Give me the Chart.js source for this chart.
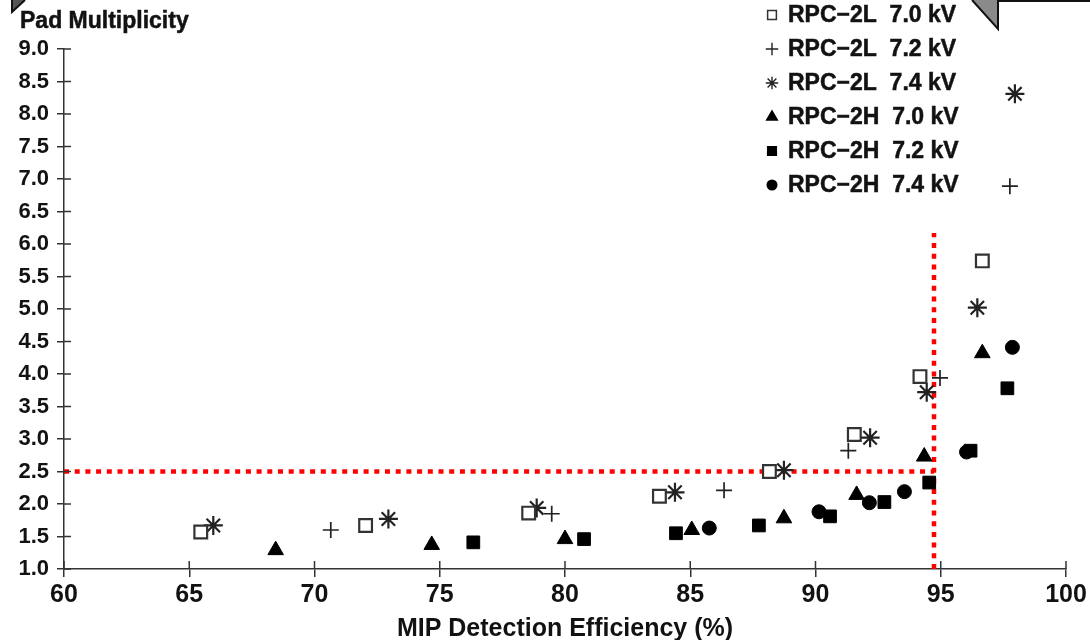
<!DOCTYPE html>
<html><head><meta charset="utf-8">
<script src="https://cdn.jsdelivr.net/npm/chart.js@4.4.1/dist/chart.umd.min.js"></script>
<style>html,body{margin:0;padding:0;background:#fff;}#wrap{width:1090px;height:640px;}</style>
</head><body><div id="wrap"><canvas id="c" width="1090" height="640"></canvas></div>
<script>
// ---- data ----
const seriesLabels = ['RPC\u22122L  7.0 kV','RPC\u22122L  7.2 kV','RPC\u22122L  7.4 kV','RPC\u22122H  7.0 kV','RPC\u22122H  7.2 kV','RPC\u22122H  7.4 kV'];
const l70x = [65.46, 72.04, 78.55, 83.77, 88.16, 91.55, 94.17, 96.66];
const l70y = [1.57, 1.67, 1.86, 2.12, 2.50, 3.07, 3.96, 5.74];
const l72x = [70.65, 79.47, 86.35, 91.31, 94.97, 97.76];
const l72y = [1.60, 1.85, 2.21, 2.82, 3.94, 6.89];
const l74x = [65.96, 72.95, 78.87, 84.39, 88.74, 92.18, 94.44, 96.46, 97.96];
const l74y = [1.67, 1.77, 1.94, 2.18, 2.52, 3.02, 3.72, 5.02, 8.31];
const h70x = [68.45, 74.68, 80.00, 85.06, 88.74, 91.64, 94.34, 96.66];
const h70y = [1.29, 1.37, 1.46, 1.60, 1.78, 2.14, 2.73, 4.32];
const h72x = [76.34, 80.76, 84.43, 87.74, 90.58, 92.75, 94.54, 96.19, 97.66];
const h72y = [1.41, 1.46, 1.55, 1.67, 1.81, 2.03, 2.33, 2.82, 3.78];
const h74x = [85.76, 90.14, 92.15, 93.55, 96.03, 97.86];
const h74y = [1.63, 1.88, 2.02, 2.19, 2.80, 4.41];
// red reference lines
const refEff = 94.73;      // % efficiency
const refMult = 2.5;       // pad multiplicity
const refTop = 6.17;       // top end of the vertical line
const xTicks = [60, 65, 70, 75, 80, 85, 90, 95, 100];
const yTicks = [1.0,1.5,2.0,2.5,3.0,3.5,4.0,4.5,5.0,5.5,6.0,6.5,7.0,7.5,8.0,8.5,9.0];
const xTitle = 'MIP Detection Efficiency (%)';
const yTitle = 'Pad Multiplicity';

const FONT = "'Liberation Sans', Arial, Helvetica, sans-serif";
const INK = '#121212';
const zip = (xs, ys) => xs.map((x, i) => ({x, y: ys[i]}));

const styles = [
  {pointStyle:'rect', radius:9, bg:'#ffffff', bc:'#333333', bw:2.2},
  {pointStyle:'cross', radius:8, bg:'#222222', bc:'#222222', bw:1.7},
  {pointStyle:'star', radius:9.5, bg:'#222222', bc:'#222222', bw:2.2},
  {pointStyle:'triangle', radius:9, bg:'#000000', bc:'#000000', bw:1},
  {pointStyle:'rect', radius:9, bg:'#000000', bc:'#000000', bw:1},
  {pointStyle:'circle', radius:7, bg:'#000000', bc:'#000000', bw:1}
];
const pts = [zip(l70x,l70y), zip(l72x,l72y), zip(l74x,l74y), zip(h70x,h70y), zip(h72x,h72y), zip(h74x,h74y)];

const datasets = pts.map((d, i) => ({
  type:'scatter', label: seriesLabels[i], data: d,
  pointStyle: styles[i].pointStyle, pointRadius: styles[i].radius,
  pointBackgroundColor: styles[i].bg, pointBorderColor: styles[i].bc,
  pointBorderWidth: styles[i].bw, showLine:false
}));
const redLine = {borderColor:'#ff0000', borderWidth:4.5, borderDash:[5,5.7], pointRadius:0, fill:false, showLine:true, tension:0};
datasets.push(Object.assign({type:'line', label:'h', data:[{x:60,y:refMult},{x:refEff,y:refMult}]}, redLine));
datasets.push(Object.assign({type:'line', label:'v', data:[{x:refEff,y:1},{x:refEff,y:refTop}]}, redLine));

function boldText(ctx, txt, x, y) {
  ctx.fillText(txt, x, y);
  ctx.lineWidth = 0.5; ctx.strokeStyle = INK; ctx.strokeText(txt, x, y);
}

const decor = {
  id:'decor',
  afterDraw(chart) {
    const ctx = chart.ctx, xs = chart.scales.x, ys = chart.scales.y;
    ctx.save();
    // inner tick marks (ticks cross the axis lines)
    ctx.strokeStyle = '#333'; ctx.lineWidth = 1.5;
    xs.ticks.forEach(t => { const px = xs.getPixelForValue(t.value); ctx.beginPath(); ctx.moveTo(px, xs.top); ctx.lineTo(px, xs.top - 8); ctx.stroke(); });
    ys.ticks.forEach(t => { const py = ys.getPixelForValue(t.value); ctx.beginPath(); ctx.moveTo(ys.right, py); ctx.lineTo(ys.right + 7, py); ctx.stroke(); });
    // y title
    ctx.fillStyle = INK; ctx.font = 'bold 23px ' + FONT; ctx.textAlign = 'left'; ctx.textBaseline = 'alphabetic';
    boldText(ctx, yTitle, 20, 28);
    // legend
    const lx = 772, ly0 = 15, step = 34;
    chart.data.datasets.slice(0, 6).forEach((ds, i) => {
      const y = ly0 + i * step;
      const s = styles[i];
      ctx.fillStyle = s.bg; ctx.strokeStyle = s.bc; ctx.lineWidth = s.pointStyle === 'rect' && s.bg === '#ffffff' ? 1.5 : 1.4;
      Chart.helpers.drawPoint(ctx, {pointStyle: s.pointStyle, radius: s.pointStyle==='circle' ? 4.8 : 6.2, rotation:0, borderWidth: ctx.lineWidth}, lx, y);
      ctx.fillStyle = INK; ctx.font = 'bold 23px ' + FONT; ctx.textAlign = 'left'; ctx.textBaseline = 'middle';
      boldText(ctx, ds.label, 788, y + 1);
    });
    // page-corner decorations
    ctx.fillStyle = '#8a8a8a'; ctx.strokeStyle = '#111'; ctx.lineWidth = 2;
    ctx.beginPath(); ctx.moveTo(972, 0); ctx.lineTo(998, 29); ctx.lineTo(998, 0); ctx.closePath(); ctx.fill();
    ctx.beginPath(); ctx.moveTo(972, 0); ctx.lineTo(998, 29); ctx.lineTo(998, 1); ctx.lineTo(1090, 1); ctx.stroke();
    ctx.fillStyle = '#555';
    ctx.beginPath(); ctx.moveTo(12, 0); ctx.lineTo(25, 0); ctx.lineTo(12, 12); ctx.closePath(); ctx.fill();
    ctx.beginPath(); ctx.moveTo(25, 0); ctx.lineTo(12, 12); ctx.lineTo(12, 0); ctx.stroke();
    ctx.restore();
  }
};

new Chart(document.getElementById('c'), {
  data: {datasets},
  options: {
    responsive:false, animation:false,
    layout:{padding:{top:49, right:24, left:0, bottom:0}},
    plugins:{legend:{display:false}, tooltip:{enabled:false}},
    scales:{
      x:{type:'linear', min:60, max:100,
        afterBuildTicks(s){ s.ticks = xTicks.map(v => ({value:v})); },
        ticks:{color:INK, font:{family:FONT, size:25, weight:'bold'}, padding:3, callback:v => String(v)},
        grid:{drawOnChartArea:false, drawTicks:true, tickLength:8, color:'#333', lineWidth:1.5},
        border:{display:true, color:'#333', width:1.5},
        title:{display:true, text:xTitle, color:INK, font:{family:FONT, size:25, weight:'bold'}, padding:{top:0,bottom:-4}},
        afterFit(s){ s.height = 71; }
      },
      y:{type:'linear', min:1, max:9,
        afterBuildTicks(s){ s.ticks = yTicks.map(v => ({value:v})); },
        ticks:{color:INK, font:{family:FONT, size:22, weight:'bold'}, padding:8, callback:v => Number(v).toFixed(1)},
        grid:{drawOnChartArea:false, drawTicks:true, tickLength:7, color:'#333', lineWidth:1.5},
        border:{display:true, color:'#333', width:1.5},
        afterFit(s){ s.width = 64; }
      }
    }
  },
  plugins:[decor]
});
</script>
</body></html>
